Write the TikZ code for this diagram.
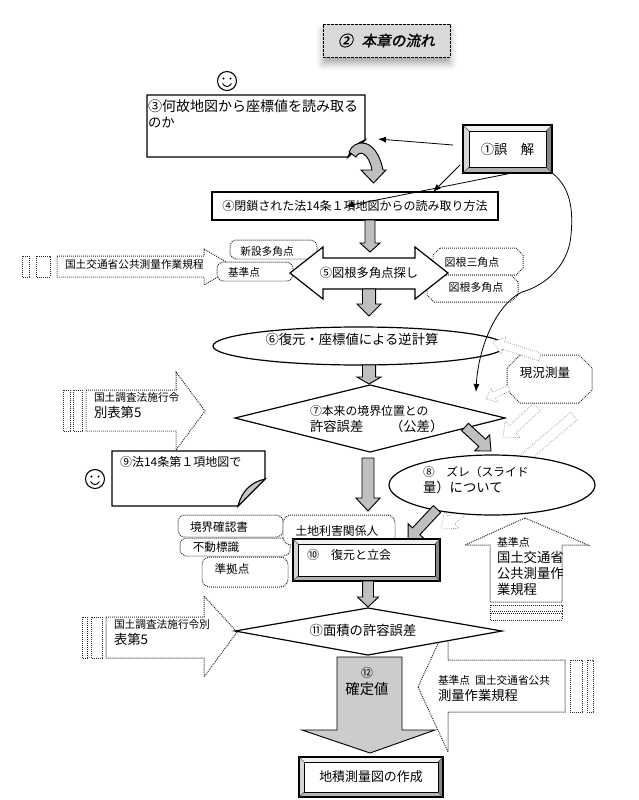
\documentclass[tikz,border=0pt]{standalone}
\usepackage{fontspec}
\setmainfont{Noto Sans CJK JP}
\newfontfamily\ttlfont[FakeSlant=0.2,FakeBold=1.5]{Noto Sans CJK JP}
\usetikzlibrary{shapes.geometric,arrows.meta,calc,shadows.blur}
\newcommand\fsz[1]{\fontsize{#1}{#1}\selectfont}
\newcommand\fszb[2]{\fontsize{#1}{#2}\selectfont}
\tikzset{
 sz/.style 2 args={minimum width=#1*0.75pt, minimum height=#2*0.75pt, inner sep=0pt, outer sep=0pt},
 solidbox/.style={draw=black, line width=0.9pt, fill=white},
 garr/.style={draw=black, line width=0.7pt, fill=gray!50},
 oarr/.style={draw=gray!80, line width=0.55pt, densely dotted, fill=white},
 dotbox/.style={draw=black!85, line width=0.75pt, dash pattern=on 0.7pt off 0.8pt, fill=white},
 conn/.style={draw=black, line width=0.6pt, -{Latex[length=6pt,width=4.5pt]}},
 txt/.style={inner sep=0pt, outer sep=0pt, align=left},
 bvtop/.style={fill=black!6}, bvleft/.style={fill=black!16},
 bvright/.style={fill=black!48}, bvbot/.style={fill=black!30},
}
\newcommand\blkarrow[6]{%
 \coordinate (ba-s) at (#2);
 \coordinate (ba-t) at (#3);
 \coordinate (ba-h) at ($(ba-t)!#6!(ba-s)$);
 \draw[#1] ($(ba-s)!#4!90:(ba-t)$) -- ($(ba-h)!#4!-90:(ba-s)$) -- ($(ba-h)!#5!-90:(ba-s)$) -- (ba-t) -- ($(ba-h)!#5!90:(ba-s)$) -- ($(ba-h)!#4!90:(ba-s)$) -- ($(ba-s)!#4!-90:(ba-t)$) -- cycle;
}
\newcommand\mybevel[5]{%
 \fill[bvtop] (#1,#2) -- (#3,#2) -- (#3-#5,#2+#5) -- (#1+#5,#2+#5) -- cycle;
 \fill[bvleft] (#1,#2) -- (#1+#5,#2+#5) -- (#1+#5,#4-#5) -- (#1,#4) -- cycle;
 \fill[bvright] (#3,#2) -- (#3,#4) -- (#3-#5,#4-#5) -- (#3-#5,#2+#5) -- cycle;
 \fill[bvbot] (#1,#4) -- (#3,#4) -- (#3-#5,#4-#5) -- (#1+#5,#4-#5) -- cycle;
 \fill[white] (#1+#5,#2+#5) rectangle (#3-#5,#4-#5);
 \draw[line width=0.9pt] (#1,#2) rectangle (#3,#4);
 \draw[line width=0.6pt] (#1+#5,#2+#5) rectangle (#3-#5,#4-#5);
 \draw[line width=0.3pt, black!70] (#1,#2) -- (#1+#5,#2+#5) (#3,#2) -- (#3-#5,#2+#5) (#3,#4) -- (#3-#5,#4-#5) (#1,#4) -- (#1+#5,#4-#5);
}
\newcommand\chambox[6]{% name x1 y1 x2 y2 chamfer
 \draw[dotbox] (#2+#6,#3) -- (#4-#6,#3) -- (#4,#3+#6) -- (#4,#5-#6) -- (#4-#6,#5) -- (#2+#6,#5) -- (#2,#5-#6) -- (#2,#3+#6) -- cycle;
 \node[sz={#4-#2}{#5-#3}] (#1) at ({(#2+#4)/2},{(#3+#5)/2}) {};
}
\newcommand\smiley[3]{%
 \node[circle, draw, line width=0.8pt, minimum size=19*0.75pt, inner sep=0pt] (#1) at (#2,#3) {};
 \fill ($(#1)+(-3.5,-2.5)$) circle (0.9pt) ($(#1)+(3.5,-2.5)$) circle (0.9pt);
 \draw[line width=0.7pt] ($(#1)+(-4.5,2.5)$) .. controls ($(#1)+(-2,6.5)$) and ($(#1)+(2,6.5)$) .. ($(#1)+(4.5,2.5)$);
}
\begin{document}
\begin{tikzpicture}[x=0.75pt,y=-0.75pt]
\useasboundingbox (0,0) rectangle (639,800);

% title
\node[draw, dash pattern=on 2pt off 1pt, line width=0.7pt, fill=gray!30, sz={127}{33},
 blur shadow={shadow xshift=0pt, shadow yshift=-5pt, shadow blur radius=5pt, shadow opacity=35}]
 (title) at (386.5,40.5) {\ttlfont\fsz{11}②\hspace{0.6em}本章の流れ};

\smiley{sm1}{227}{81}
\smiley{sm2}{95}{479}

% box 3
\draw[solidbox] (147,95) -- (365,95) -- (365,140) -- (348,157) -- (147,157) -- cycle;
\draw[line width=0.8pt, fill=gray!45] (365,140) .. controls (357,143) and (351,149) .. (348,157) -- cycle;
\node[sz={218}{62}] (q3) at (256,126) {};
\node[txt, anchor=north west] (t3) at (148,100) {\fszb{10.5}{10.5}③何故地図から座標値を読み取る\\のか};

% curved arrow 3 -> 4
\draw[garr] (349,152) .. controls (354,139) and (376,136) .. (383,170) -- (386,170) -- (373.5,183) -- (361,170) -- (372,170) .. controls (369,154) and (360,149) .. (356,157) -- cycle;

% box 4
\node[solidbox, sz={286}{28}] (q4) at (355,206) {\fsz{9}④閉鎖された法14条１項地図からの読み取り方法};

% box 1
\mybevel{463}{125}{552}{173}{6}
\node[sz={89}{48}] (err) at (507.5,149) {\fsz{10}①誤　解};

% striped arrow A
\draw[dotbox] (57,256) -- (204,256) -- (204,249) -- (235,267) -- (204,285) -- (204,277) -- (57,277) -- cycle;
\draw[dotbox] (22,256) rectangle (29,277) (36,256) rectangle (50,277);
\node[txt, anchor=west] (tA) at (65,264) {\fsz{8}国土交通省公共測量作業規程};

% callouts around 5
\node[dotbox, rounded corners=5pt, sz={87}{19}] (sinb) at (273.5,249.5) {};
\node[txt] (sin) at (267,251) {\fsz{8}新設多角点};
\node[dotbox, rounded corners=5pt, sz={76}{19}] (kjb) at (255,271.5) {};
\node[txt] (kj) at (244,272) {\fsz{8}基準点};
\chambox{zk3b}{433}{248}{523}{275}{7}
\node[txt] (zk3) at (472,262) {\fsz{8.2}図根三角点};
\chambox{zktb}{427}{275}{518}{302}{7}
\node[txt] (zkt) at (476,287) {\fsz{8.2}図根多角点};

% double arrow 5
\draw[solidbox] (290,273) -- (323,247) -- (323,258) -- (415,258) -- (415,247) -- (448,273) -- (415,299) -- (415,289) -- (323,289) -- (323,299) -- cycle;
\node[txt] (t5) at (369,273) {\fsz{9.2}⑤図根多角点探し};

% small gray arrows
\blkarrow{garr}{370,220}{370,252}{3.75pt}{7.5pt}{6.75pt}
\blkarrow{garr}{369,289}{369,316}{4.9pt}{9pt}{9pt}

% ellipse 6
\node[ellipse, solidbox, sz={292}{38}] (s6) at (359,346) {};
\node[txt] (t6) at (352,339) {\fsz{10}⑥復元・座標値による逆計算};
\blkarrow{garr}{369,365}{369,384}{4.9pt}{9pt}{5.25pt}

% diamond 7
\draw[solidbox] (370,385) -- (505,418) -- (370,452) -- (235,418) -- cycle;
\node[txt, anchor=north west] (t7) at (310,405) {\fszb{8.9}{12}⑦本来の境界位置との\\許容誤差　　（公差）};

% striped arrow B
\draw[dotbox] (86,390) -- (176,390) -- (176,372) -- (205,411) -- (176,450) -- (176,431) -- (86,431) -- cycle;
\draw[dotbox] (63,390) rectangle (70,431) (73,390) rectangle (82,431);
\node[txt, anchor=north west] (tB) at (94,393) {\fszb{8}{10.5}国土調査法施行令\\別表第5};

% box 9
\draw[solidbox] (112,451) -- (265,451) -- (265,479) -- (238,506) -- (112,506) -- cycle;
\draw[line width=0.8pt, fill=gray!45] (265,479) .. controls (252,482) and (242,490) .. (238,506) -- cycle;
\node[txt, anchor=west] (t9) at (120,462) {\fsz{9}⑨法14条第１項地図で};

% genkyo sokuryo
\blkarrow{oarr}{574,416}{441,529}{3.75pt}{8.25pt}{10.5pt}
\chambox{gkb}{507}{355}{592}{403}{13}
\node[txt] (gk) at (545,373) {\fsz{9.4}現況測量};
\blkarrow{oarr}{540,357}{493,342}{3pt}{6.75pt}{8.25pt}
\blkarrow{oarr}{509,388}{486,399}{2.25pt}{5.6pt}{6.75pt}
\blkarrow{oarr}{537,407}{503,438}{3.75pt}{8.25pt}{9.75pt}

% ellipse 8
\node[ellipse, solidbox, sz={206}{60}] (s8) at (492,485) {};
\node[txt, anchor=north west] (t8) at (423,466) {\fszb{8.8}{12.75}⑧　ズレ（スライド\\量）について};

% gray arrows around 7, 8, 10
\blkarrow{garr}{465,427}{491,451}{3.75pt}{8.25pt}{9pt}
\blkarrow{garr}{368,458}{368,511}{4.5pt}{9pt}{9.75pt}
\blkarrow{garr}{437,509}{408,540}{3.75pt}{8.25pt}{9pt}

% up arrow D
\draw[dotbox] (525,518) -- (588,545) -- (562,545) -- (562,602) -- (490,602) -- (490,545) -- (465,545) -- cycle;
\draw[dotbox] (490,605) rectangle (562,611) (490,613) rectangle (562,620);
\node[txt, anchor=north west] (tD) at (497,537) {\fszb{8.2}{10.1}基準点\\国土交通省\\公共測量作\\業規程};

% callouts near 10
\node[dotbox, rounded corners=5pt, sz={105}{22}] (kkb) at (230.5,526) {};
\node[txt] (kk) at (219,527) {\fsz{8.7}境界確認書};
\node[dotbox, rounded corners=5pt, sz={110}{18}] (fdb) at (235,547) {};
\node[txt] (fd) at (216,547) {\fsz{8.7}不動標識};
\node[dotbox, rounded corners=6pt, sz={86}{30}] (jkb) at (245,572) {};
\node[txt] (jk) at (232,569) {\fsz{8.7}準拠点};
\node[dotbox, rounded corners=6pt, sz={112}{30}] (tcb) at (339,530) {};
\node[txt] (tc) at (337,531) {\fsz{8.9}土地利害関係人};

% box 10
\mybevel{293}{539}{440}{581}{5}
\node[sz={147}{42}] (b10) at (366.5,560) {};
\node[txt, anchor=west] (t10) at (307,555) {\fsz{9}⑩　復元と立会};
\blkarrow{garr}{368,581}{368,607}{4.1pt}{7.9pt}{7.5pt}

% striped arrows C and E
\draw[dotbox] (106,617) -- (204,617) -- (204,596) -- (237,632) -- (204,677) -- (204,658) -- (106,658) -- cycle;
\draw[dotbox] (82,617) rectangle (87,658) (91,617) rectangle (102,658);
\node[txt, anchor=north west] (tC) at (114,620) {\fszb{8}{11.25}国土調査法施行令別\\表第5};
\draw[dotbox] (418,687) -- (448,622) -- (448,660) -- (565,660) -- (565,712) -- (448,712) -- (448,752) -- cycle;
\draw[dotbox] (570,660) rectangle (582,712) (587,660) rectangle (593,712);
\node[txt, anchor=north west] (tE) at (438,675) {\fszb{8}{10.5}基準点\hspace{0.5em}国土交通省公共\\測量作業規程};

% diamond 11
\draw[solidbox] (368,608) -- (502,631) -- (368,655) -- (235,631) -- cycle;
\node[txt] (t11) at (363,630) {\fsz{10}⑪面積の許容誤差};

% arrow 12
\draw[garr, fill=gray!40] (337,657) -- (402,657) -- (402,730) -- (435,730) -- (370,753) -- (302,730) -- (337,730) -- cycle;
\node[txt] (n12) at (367,673) {\fsz{9}⑫};
\node[txt] (t12) at (367,689) {\fsz{10.8}確定値};

% bottom box
\mybevel{299}{757}{443}{797}{5}
\node[sz={144}{40}] (fin) at (371,777) {\fsz{9.7}地積測量図の作成};

% connectors from 1
\draw[conn] ($(err.west)+(-10,-4)$) -- ($(q3.east)+(13,13)$);
\draw[conn] ($(err.south west)+(-3,-8)$) -- ($(q4.north)+(78,0)$);
\draw[conn] ($(err.south)+(4.5,0)$) -- ($(zk3b.north west)+(0,4)$);
\coordinate (genend) at (476,392);
\draw[conn] (err.south east) .. controls (568,185) and (574,205) .. (571,235) .. controls (568,270) and (540,287) .. (522,292) .. controls (495,305) and (478,350) .. (genend);
\end{tikzpicture}
\end{document}
